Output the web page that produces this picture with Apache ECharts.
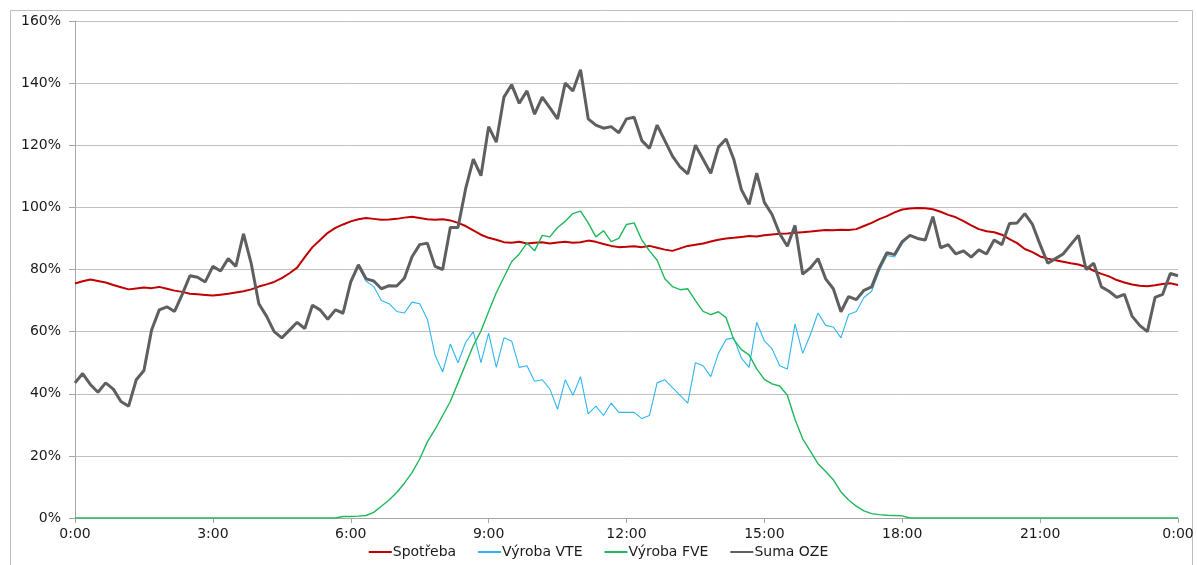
<!DOCTYPE html>
<html>
<head>
<meta charset="utf-8">
<script src="https://cdn.jsdelivr.net/npm/echarts@6/dist/echarts.min.js"></script>
<style>
  html, body { margin: 0; padding: 0; background: #ffffff; }
  #chart { width: 1197px; height: 565px; }
</style>
</head>
<body>
<div id="chart"></div>
<script>
// One day sampled every 10 minutes (0:00 .. 24:00, 145 samples), values in % of peak.
const stepMinutes = 10;
const xTickLabels = ['0:00', '3:00', '6:00', '9:00', '12:00', '15:00', '18:00', '21:00', '0:00'];
const yTickLabels = ['0%', '20%', '40%', '60%', '80%', '100%', '120%', '140%', '160%'];
const seriesNames = ['Spotřeba', 'Výroba VTE', 'Výroba FVE', 'Suma OZE'];

// Consumption
const spotreba = [
  75.5, 76.2, 76.8, 76.3, 75.8, 75.0,
  74.3, 73.6, 73.9, 74.2, 74.0, 74.4,
  73.8, 73.2, 72.8, 72.2, 72.0, 71.8,
  71.6, 71.9, 72.2, 72.6, 73.0, 73.6,
  74.5, 75.2, 76.0, 77.2, 78.8, 80.6,
  84.0, 87.2, 89.5, 91.8, 93.4, 94.5,
  95.5, 96.2, 96.6, 96.3, 96.0, 96.1,
  96.3, 96.7, 97.0, 96.6, 96.2, 96.0,
  96.2, 95.8, 95.0, 94.0, 92.6, 91.2,
  90.2, 89.6, 88.8, 88.6, 88.9, 88.4,
  88.6, 88.8, 88.4, 88.7, 88.9, 88.6,
  88.8, 89.3, 88.9, 88.2, 87.6, 87.2,
  87.3, 87.5, 87.2, 87.6, 87.0, 86.4,
  86.0, 86.8, 87.6, 88.0, 88.4, 89.0,
  89.6, 90.0, 90.2, 90.5, 90.8, 90.6,
  91.0, 91.3, 91.5, 91.6, 91.8, 92.0,
  92.2, 92.5, 92.7, 92.6, 92.8, 92.7,
  93.0, 94.0, 95.0, 96.2, 97.2, 98.4,
  99.3, 99.6, 99.8, 99.7, 99.4, 98.6,
  97.6, 96.8, 95.6, 94.2, 93.0, 92.3,
  92.0, 91.2, 89.8, 88.5, 86.6, 85.6,
  84.2, 83.5, 83.0, 82.5, 82.0, 81.6,
  80.8, 79.6, 78.6, 77.8, 76.6, 75.8,
  75.2, 74.8, 74.6, 74.9, 75.3, 75.6,
  75.0
];

// Wind production
const vyrobaVTE = [
  43.5, 46.5, 43.0, 40.5, 43.5, 41.5,
  37.5, 36.0, 44.5, 47.5, 60.5, 67.0,
  68.0, 66.5, 72.0, 78.0, 77.5, 76.0,
  81.0, 79.5, 83.5, 81.0, 91.5, 82.0,
  69.0, 65.0, 60.0, 58.0, 60.5, 63.0,
  61.0, 68.5, 67.0, 64.0, 67.0, 65.5,
  75.5, 80.9, 76.2, 74.5, 70.0, 69.0,
  66.5, 66.0, 69.5, 69.0, 64.0, 52.5,
  47.0, 56.0, 50.0, 56.5, 60.0, 50.0,
  59.5, 48.5, 58.0, 57.0, 48.5, 49.0,
  44.0, 44.5, 41.5, 35.0, 44.5, 39.5,
  45.5, 33.5, 36.0, 33.0, 37.0, 34.0,
  34.0, 34.0, 32.0, 33.0, 43.5, 44.5,
  42.0, 39.5, 37.0, 50.0, 49.0, 45.5,
  53.0, 57.5, 58.0, 51.5, 48.5, 63.0,
  57.0, 54.5, 49.0, 48.0, 62.5, 53.0,
  59.0, 66.0, 62.0, 61.5, 58.0, 65.5,
  66.5, 71.0, 73.0, 79.5, 84.5, 84.0,
  88.3, 91.0, 90.0, 89.5, 97.0, 87.0,
  88.0, 85.0, 86.0, 84.0, 86.3, 85.0,
  89.5, 88.0, 94.8, 95.0, 98.0, 94.5,
  88.0, 82.0, 83.5, 85.0, 88.0, 91.0,
  80.0, 82.0, 74.4, 73.0, 71.0, 72.0,
  65.0, 62.0, 60.0, 71.0, 72.0, 78.7,
  78.0
];

// Solar production
const vyrobaFVE = [
  0, 0, 0, 0, 0, 0,
  0, 0, 0, 0, 0, 0,
  0, 0, 0, 0, 0, 0,
  0, 0, 0, 0, 0, 0,
  0, 0, 0, 0, 0, 0,
  0, 0, 0, 0, 0, 0.5,
  0.5, 0.6, 0.8, 1.8, 3.8, 5.8,
  8.2, 11.2, 14.6, 19.0, 24.5, 28.5,
  33.0, 37.5, 43.5, 49.5, 55.5, 60.2,
  66.5, 72.5, 77.5, 82.5, 85.0, 88.5,
  86.0, 91.0, 90.5, 93.5, 95.5, 98.0,
  98.8, 95.0, 90.5, 92.5, 89.0, 90.0,
  94.5, 95.0, 89.5, 86.0, 83.0, 77.0,
  74.5, 73.5, 73.8, 70.0, 66.5, 65.5,
  66.4, 64.5, 57.5, 54.2, 52.5, 48.0,
  44.6, 43.2, 42.5, 39.5, 31.7, 25.5,
  21.5, 17.5, 15.0, 12.3, 8.4, 5.8,
  3.8, 2.3, 1.4, 1.1, 0.9, 0.8,
  0.7, 0, 0, 0, 0, 0,
  0, 0, 0, 0, 0, 0,
  0, 0, 0, 0, 0, 0,
  0, 0, 0, 0, 0, 0,
  0, 0, 0, 0, 0, 0,
  0, 0, 0, 0, 0, 0,
  0
];

// Total renewables = wind + solar
const sumaOZE = vyrobaVTE.map((v, i) => +(v + vyrobaFVE[i]).toFixed(1));

const toPairs = arr => arr.map((v, i) => [i * stepMinutes, v]);

const colors = ['#c00000', '#2fb6f0', '#1fb85a', '#5f5f5f'];
const widths = [2, 1.1, 1.4, 3];
const values = [spotreba, vyrobaVTE, vyrobaFVE, sumaOZE];

const fontFamily = '"DejaVu Sans", "Liberation Sans", Arial, sans-serif';
const chart = echarts.init(document.getElementById('chart'), null, { renderer: 'canvas' });

chart.setOption({
  animation: false,
  backgroundColor: '#ffffff',
  textStyle: { fontFamily: fontFamily },
  graphic: [{
    type: 'rect',
    left: 8, top: 8,
    shape: { x: 0.5, y: 0.5, width: 1182, height: 620 },
    style: { fill: 'none', stroke: '#bdbdbd', lineWidth: 1 },
    silent: true
  }],
  grid: { left: 75, right: 19, top: 21, bottom: 47 },
  legend: {
    data: seriesNames,
    bottom: 1,
    left: 'center',
    icon: 'rect',
    itemWidth: 23,
    itemHeight: 2,
    itemGap: 22,
    textStyle: { fontSize: 14, color: '#1a1a1a', fontFamily: fontFamily, padding: [0, 0, 0, -4] }
  },
  xAxis: {
    type: 'value',
    min: 0,
    max: 1440,
    interval: 180,
    axisLine: { show: true, lineStyle: { color: '#a6a6a6', width: 1 } },
    axisTick: { show: true, length: 5, lineStyle: { color: '#a6a6a6' } },
    splitLine: { show: false },
    axisLabel: {
      margin: 9,
      fontSize: 14,
      color: '#1a1a1a',
      fontFamily: fontFamily,
      formatter: v => xTickLabels[Math.round(v / 180)]
    }
  },
  yAxis: {
    type: 'value',
    min: 0,
    max: 160,
    interval: 20,
    axisLine: { show: true, lineStyle: { color: '#a6a6a6', width: 1 } },
    axisTick: { show: true, length: 6, lineStyle: { color: '#a6a6a6' } },
    splitLine: { show: true, lineStyle: { color: '#bfbfbf', width: 1 } },
    axisLabel: {
      margin: 14,
      fontSize: 14,
      color: '#1a1a1a',
      fontFamily: fontFamily,
      formatter: v => yTickLabels[Math.round(v / 20)]
    }
  },
  series: seriesNames.map((name, k) => ({
    name: name,
    type: 'line',
    data: toPairs(values[k]),
    showSymbol: false,
    symbol: 'none',
    color: colors[k],
    lineStyle: { color: colors[k], width: widths[k] },
    emphasis: { disabled: true },
    z: 2 + k
  }))
});
</script>
</body>
</html>
